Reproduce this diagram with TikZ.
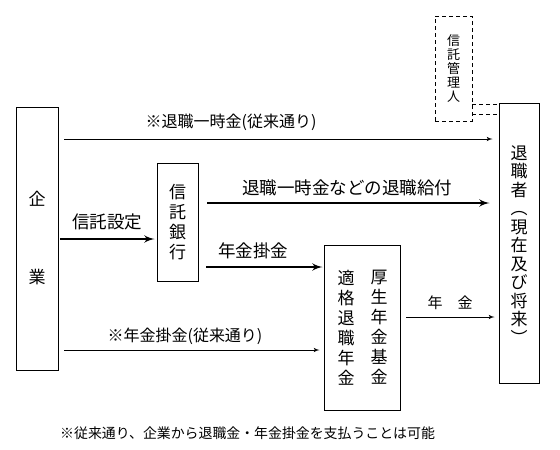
\documentclass[tikz,border=0pt]{standalone}
\usepackage{fontspec}
\setmainfont{Noto Sans CJK JP}
\usetikzlibrary{arrows}
\tikzset{box/.style = {draw, line width = 1pt, inner sep = 0},
  dbox/.style = {box, dash pattern = on 4pt off 3pt},
  vtext/.style = {align = center, inner sep = 0, font = \fontsize{17}{20}\selectfont},
  lbl/.style = {inner sep = 0, font = \fontsize{16}{16}\selectfont},
  biglbl/.style = {inner sep = 0, font = \fontsize{17.5}{18}\selectfont},
  thinarrow/.style = {line width = 1pt, -latex'},
  thickarrow/.style = {line width = 2.5pt, -latex'},
  dline/.style = {line width = 1pt, dash pattern = on 4pt off 3pt}}

\begin{document}
\begin{tikzpicture}[x=1pt, y=-1pt]
      \useasboundingbox (0, 0) rectangle (560, 450);

      \node [box, minimum width = 42, minimum height = 263] (kigyo) at (37, 238.5) {};
      \node [vtext, font = \fontsize{17}{78}\selectfont] at (kigyo) {企\\業};

      \node [box, vtext, minimum width = 41, minimum height = 118] (bank) at (177.5, 222) {信\\託\\銀\\行};

      \node [box, minimum width = 76, minimum height = 165] (fund) at (362, 327.5) {};
      \node [vtext] at ([xshift = -16]fund.center) {適\\格\\退\\職\\年\\金};
      \node [vtext] at ([xshift = 17]fund.center) {厚\\生\\年\\金\\基\\金};

      \node [box, minimum width = 40, minimum height = 280] (retiree) at (519, 243) {};
      \node [vtext, font = \fontsize{17}{18.5}\selectfont] at ([yshift = -2]retiree.center) {退\\職\\者\\︵\\現\\在\\及\\び\\将\\来\\︶};

      \node [dbox, vtext, font = \fontsize{13}{14}\selectfont, minimum width = 37, minimum height = 105] (admin) at (453.5, 68.5) {信\\託\\管\\理\\人};

      \coordinate (lumpA) at (64, 139);
      \coordinate (trust) at (60, 239);
      \coordinate (benefit) at (207, 203);
      \coordinate (premA) at (206, 267);
      \coordinate (premB) at (64, 350);
      \coordinate (pension) at (406, 317);
      \coordinate (dashA) at (472, 104);
      \coordinate (dashB) at (472, 114);

      \draw [thinarrow, shorten >= 6pt] (lumpA) -- (lumpA -| retiree.west);
      \node [lbl] at (231, 122) {※退職一時金(従来通り)};

      \draw [thickarrow, shorten >= 2pt] (trust) -- (trust -| bank.west);
      \node [biglbl] at (107, 222) {信託設定};

      \draw [thickarrow, shorten >= 9pt] (benefit) -- (benefit -| retiree.west);
      \node [biglbl] at (347, 188) {退職一時金などの退職給付};

      \draw [thickarrow, shorten >= 1pt] (premA) -- (premA -| fund.west);
      \node [biglbl] at (253, 251) {年金掛金};

      \draw [thinarrow, shorten >= 4pt] (premB) -- (premB -| fund.west);
      \node [lbl] at (185, 336) {※年金掛金(従来通り)};

      \draw [thinarrow, shorten >= 4pt] (pension) -- (pension -| retiree.west);
      \node [lbl, font = \fontsize{15}{15}\selectfont] at (450, 303) {年　金};

      \draw [dline] (dashA) -- (dashA -| retiree.west);
      \draw [dline] (dashB) -- (dashB -| retiree.west);

      \node [lbl, font = \fontsize{13.9}{14}\selectfont, anchor = west] at (60, 433) {※従来通り、企業から退職金・年金掛金を支払うことは可能};
    \end{tikzpicture}
\end{document}
